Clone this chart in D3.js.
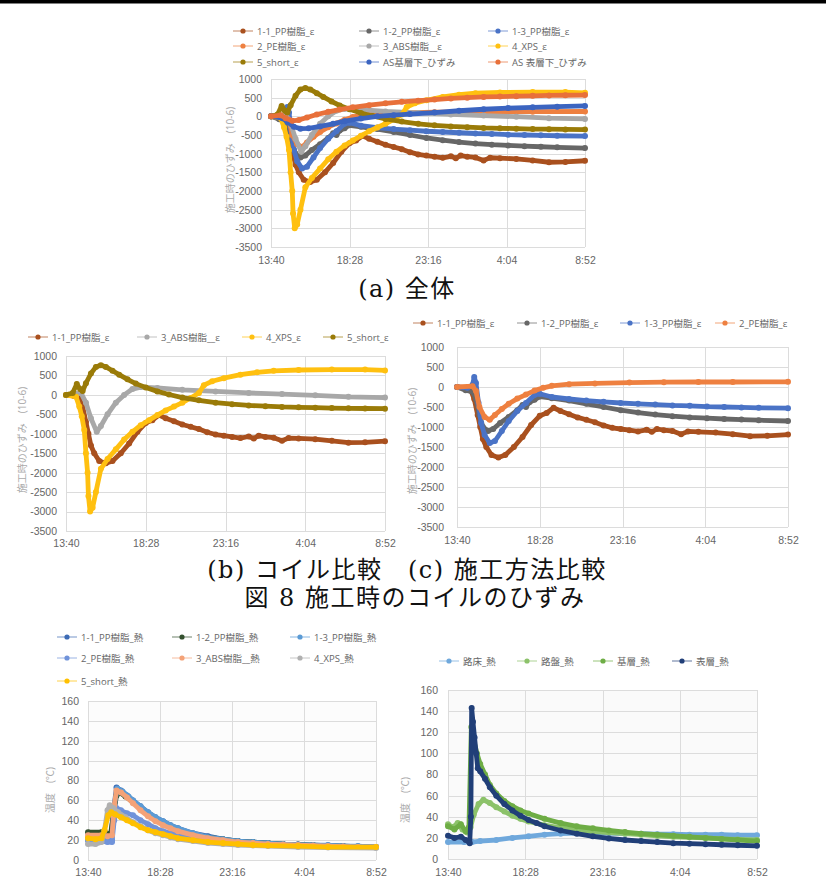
<!DOCTYPE html>
<html>
<head>
<meta charset="utf-8">
<style>
    body { margin: 0; background: #fff; }
    svg { display: block; font-family: 'Open Sans', 'Noto Sans CJK JP', sans-serif; }
    .tick text { font-size: 10.5px; fill: #666; }
    .grid line { stroke: #dcdcdc; stroke-width: 1; }
    .legend text { font-size: 9.5px; fill: #666; }
    .ytitle { font-size: 10px; fill: #aaa; }
    .caption { font-family: 'DejaVu Serif', 'Noto Sans CJK JP', serif; font-size: 24px; fill: #111; letter-spacing: 1.5px; }
</style>
</head>
<body>
<svg width="826" height="884"></svg>
<script src="https://cdn.jsdelivr.net/npm/d3@7"></script>
<script>
    // hours since 13:40, gridlines every 4h48m
    const timeTicks = [0, 4.8, 9.6, 14.4, 19.2];
    const timeLabels = ["13:40", "18:28", "23:16", "4:04", "8:52"];
    const strainTicks = [-3500, -3000, -2500, -2000, -1500, -1000, -500, 0, 500, 1000];
    const tempTicks = [0, 20, 40, 60, 80, 100, 120, 140, 160];

    // ---- strain series [hours, 10^-6] ----
    const pp11 = [[0,0],[0.5,-30],[0.8,-80],[1.0,-300],[1.2,-700],[1.35,-1000],[1.5,-1300],[1.7,-1500],[2.0,-1700],[2.4,-1760],[2.8,-1700],[3.3,-1500],[3.8,-1250],[4.3,-950],[4.8,-720],[5.2,-650],[5.6,-520],[6.0,-600],[6.5,-680],[7.0,-760],[7.5,-820],[8.0,-880],[8.5,-960],[9.0,-1020],[9.5,-1050],[10.0,-1080],[10.5,-1110],[11.0,-1070],[11.3,-1120],[11.6,-1050],[12.0,-1080],[12.5,-1100],[13.0,-1180],[13.4,-1110],[14.0,-1120],[15.0,-1140],[16.0,-1180],[17.0,-1230],[18.0,-1220],[19.2,-1190]];
    const pp12 = [[0,0],[0.5,-80],[0.9,-120],[1.1,-300],[1.3,-700],[1.5,-1000],[1.8,-1100],[2.1,-1050],[2.5,-900],[3.0,-750],[3.5,-580],[3.8,-450],[4.0,-500],[4.2,-380],[4.5,-320],[4.8,-240],[5.5,-280],[6.5,-340],[7.5,-420],[8.5,-500],[9.5,-580],[10.5,-640],[11.5,-690],[12.5,-730],[13.5,-760],[14.5,-780],[15.5,-800],[16.5,-815],[17.5,-830],[19.2,-850]];
    const pp13 = [[0,0],[0.6,-20],[0.9,50],[1.0,250],[1.1,100],[1.25,-400],[1.4,-900],[1.6,-1200],[1.9,-1400],[2.2,-1350],[2.6,-1100],[3.0,-850],[3.5,-600],[4.0,-400],[4.5,-200],[4.8,-170],[5.5,-250],[6.5,-300],[7.5,-340],[8.5,-370],[9.5,-400],[10.5,-420],[11.5,-440],[12.5,-460],[13.5,-470],[14.5,-490],[15.5,-500],[16.5,-510],[17.5,-520],[19.2,-530]];
    const pe2 = [[0,0],[0.9,20],[1.1,-100],[1.3,-500],[1.6,-750],[1.9,-820],[2.2,-700],[2.6,-550],[3.0,-420],[3.5,-290],[4.0,-190],[4.5,-90],[5.0,-20],[5.5,30],[6.5,70],[8,90],[10,110],[12,120],[14,125],[16,125],[19.2,130]];
    const abs3 = [[0,0],[0.6,20],[0.9,50],[1.2,-200],[1.5,-600],[1.85,-950],[2.1,-800],[2.5,-500],[3.0,-200],[3.5,0],[4.0,150],[4.5,200],[5.5,180],[7,130],[9,90],[11,50],[13,20],[15,-10],[17,-50],[19.2,-70]];
    const xps4 = [[0,0],[0.6,-50],[0.8,-300],[0.95,-550],[1.1,-900],[1.2,-1500],[1.3,-2000],[1.35,-2600],[1.45,-3000],[1.6,-2900],[1.8,-2500],[2.1,-1900],[2.5,-1650],[3.0,-1400],[3.5,-1150],[4.0,-950],[4.5,-780],[5.0,-650],[5.5,-520],[6.0,-400],[6.5,-300],[7.0,-200],[7.5,-80],[8.0,50],[8.3,250],[8.8,350],[9.5,430],[10.5,520],[11.5,580],[12.5,620],[14,640],[16,650],[18,650],[19.2,630]];
    const short5 = [[0,0],[0.4,50],[0.65,280],[0.85,150],[1.0,100],[1.2,300],[1.5,550],[1.8,720],[2.1,760],[2.4,720],[2.8,620],[3.2,520],[3.7,400],[4.2,290],[4.8,190],[5.5,90],[6.2,10],[7,-70],[8,-140],[9,-200],[10,-240],[11,-270],[12,-290],[13,-310],[14,-320],[15,-330],[16,-340],[17,-345],[18,-350],[19.2,-355]];
    const asKiso = [[0,0],[0.7,-50],[1.0,-150],[1.4,-280],[1.8,-330],[2.3,-320],[3.0,-270],[3.8,-200],[4.5,-130],[5.5,-60],[6.5,0],[7.5,30],[8.5,60],[10,100],[11.5,150],[13,190],[14.5,220],[16,240],[17.5,260],[19.2,280]];
    const asHyo = [[0,0],[0.6,30],[0.9,-50],[1.3,-120],[1.7,-100],[2.2,-30],[2.8,50],[3.5,120],[4.2,180],[5,240],[6,300],[7,350],[8,390],[9,420],[10,450],[11,480],[12,500],[13,520],[14,530],[15,540],[16,550],[17,560],[18,565],[19.2,570]];

    // ---- coil temperature [hours, deg C] ----
    const tPp11 = [[0,22],[0.9,22],[1.2,21],[1.5,22],[1.7,50],[1.9,73],[2.2,70],[2.6,65],[3.0,60],[3.5,54],[4.0,48],[4.5,43],[5.0,39],[5.5,35],[6.0,32],[7.0,27],[8.0,24],[9.0,21],[10,19],[11,18],[12,17],[13,16],[14,15.5],[15,15],[16,14.5],[17,14],[18,13.5],[19.2,13]];
    const tPp12 = [[0,28],[0.9,28],[1.2,27],[1.5,26],[1.7,45],[1.9,65],[2.1,68],[2.5,64],[3.0,58],[3.5,52],[4.0,46],[4.5,41],[5.0,37],[5.5,34],[6,31],[7,26],[8,23],[9,21],[10,19],[11,18],[12,17],[13,16],[14,15.5],[15,15],[16,14.5],[17,14],[18,13.5],[19.2,13]];
    const tPp13 = [[0,20],[0.9,20],[1.3,19],[1.6,20],[1.75,55],[1.95,72],[2.3,69],[2.7,64],[3.0,60],[3.5,54],[4.0,48],[4.5,43],[5.0,39],[5.5,35],[6,32],[7,27],[8,23],[9,21],[10,19],[11,18],[12,17],[13,16],[14,15.5],[15,15],[16,15],[17,14],[18,14],[19.2,13]];
    const tPe2 = [[0,20],[0.9,19],[1.3,18],[1.6,18],[1.75,40],[1.85,53],[2.2,50],[2.6,47],[3.0,45],[3.5,40],[4,36],[4.5,32],[5,29],[5.5,27],[6,25],[7,22],[8,20],[9,18],[10,17],[11,16],[12,15.5],[13,15],[14,14.5],[15,14],[16,14],[17,13.5],[18,13],[19.2,13]];
    const tAbs3 = [[0,25],[0.9,25],[1.3,24],[1.6,25],[1.75,55],[1.9,70],[2.2,68],[2.6,63],[3.0,57],[3.5,50],[4,44],[4.5,39],[5,35],[5.5,32],[6,29],[7,25],[8,22],[9,20],[10,18],[11,17],[12,16],[13,15.5],[14,15],[15,14.5],[16,14],[17,13.5],[18,13],[19.2,13]];
    const tXps4 = [[0,16],[0.5,16],[0.9,18],[1.1,30],[1.3,50],[1.45,55],[1.7,52],[2.0,48],[2.5,43],[3.0,38],[3.5,34],[4,30],[4.5,27],[5,25],[5.5,23],[6,21],[7,19],[8,17],[9,16],[10,15],[11,14.5],[12,14],[14,13],[16,12.5],[19.2,12]];
    const tShort5 = [[0,22],[0.5,21],[0.9,22],[1.1,30],[1.35,45],[1.55,48],[1.8,46],[2.2,43],[2.6,40],[3.0,37],[3.5,33],[4,30],[4.5,28],[5,26],[5.5,24],[6,22],[7,20],[8,18],[9,17],[10,16],[11,15],[12,14.5],[14,14],[16,13],[19.2,13]];

    // ---- pavement temperature [hours, deg C] ----
    const roshou = [[0,16],[1,16],[1.5,16],[2,17],[3,18],[4,20],[5,21.5],[6,23],[7,24],[8,24.5],[9,24.5],[10,24.5],[11,24],[12,24],[13,23.5],[14,23.5],[15,23],[16,23],[17,23],[18,22.5],[19.2,22.5]];
    const roban = [[0,33],[0.3,30],[0.6,34],[0.9,28],[1.2,25],[1.4,30],[1.6,42],[1.9,52],[2.2,56],[2.6,53],[3.0,49],[3.5,45],[4.0,41],[4.5,38],[5,35.5],[6,32],[7,29.5],[8,27.5],[9,26],[10,25],[11,24],[12,23],[13,22],[14,21],[15,20.5],[16,20],[17,19],[18,18.5],[19.2,18]];
    const kisou = [[0,31],[0.4,28],[0.8,33],[1.1,26],[1.3,30],[1.45,125],[1.6,112],[1.8,100],[2.0,90],[2.3,80],[2.6,70],[3.0,62],[3.5,55],[4.0,50],[4.5,46],[5,43],[6,38],[7,34],[8,31],[9,29],[10,27],[11,25.5],[12,24],[13,23],[14,22],[15,21],[16,20],[17,19],[18,18],[19.2,17]];
    const hyousou = [[0,22],[0.4,20],[0.8,21],[1.1,18],[1.35,15],[1.42,40],[1.47,143],[1.55,130],[1.65,115],[1.75,100],[1.85,86],[2.0,83],[2.3,76],[2.6,68],[3.0,60],[3.5,52],[4.0,46],[4.5,41],[5,37],[5.5,34],[6,31],[7,27],[8,24],[9,21.5],[10,19.5],[11,18],[12,17],[13,16],[14,15],[15,14.5],[16,14],[17,13.5],[18,13],[19.2,12.5]];

    const S = {
        pp11: { name: "1-1_PP樹脂_ε", data: pp11, color: "#a9501e" },
        pp12: { name: "1-2_PP樹脂_ε", data: pp12, color: "#676767" },
        pp13: { name: "1-3_PP樹脂_ε", data: pp13, color: "#4a73c6" },
        pe2: { name: "2_PE樹脂_ε", data: pe2, color: "#ee8040" },
        abs3: { name: "3_ABS樹脂__ε", data: abs3, color: "#a8a8a8" },
        xps4: { name: "4_XPS_ε", data: xps4, color: "#ffc010" },
        short5: { name: "5_short_ε", data: short5, color: "#9a7b08" },
        asKiso: { name: "AS基層下_ひずみ", data: asKiso, color: "#3b64c0" },
        asHyo: { name: "AS 表層下_ひずみ", data: asHyo, color: "#e8703a" }
    };

    const svg = d3.select("svg");

    // top rule of the page
    svg.append("rect").attr("x", 0).attr("y", 0).attr("width", 826).attr("height", 3.5).attr("fill", "#000");

    function drawChart(c) {
        const g = svg.append("g");
        const x = d3.scaleLinear().domain([0, 19.2]).range([c.left, c.right]);
        const y = d3.scaleLinear().domain(c.yDomain).range([c.bottom, c.top]);

        if (c.fill) {
            g.append("rect").attr("x", c.left).attr("y", c.top)
                .attr("width", c.right - c.left).attr("height", c.bottom - c.top).attr("fill", c.fill);
        }

        const grid = g.append("g").attr("class", "grid");
        grid.selectAll(".h").data(c.yTicks).join("line")
            .attr("x1", c.left).attr("x2", c.right)
            .attr("y1", d => Math.round(y(d)) + 0.5).attr("y2", d => Math.round(y(d)) + 0.5);
        grid.selectAll(".v").data(timeTicks).join("line")
            .attr("y1", c.top).attr("y2", c.bottom)
            .attr("x1", d => Math.round(x(d)) + 0.5).attr("x2", d => Math.round(x(d)) + 0.5);

        g.append("g")
            .attr("transform", `translate(${c.left},0)`)
            .call(d3.axisLeft(y).tickValues(c.yTicks).tickSize(0).tickPadding(c.yPad || 9)
                .tickFormat(d => String(d)))
            .call(a => a.select(".domain").remove());

        g.append("g")
            .attr("transform", `translate(0,${c.bottom})`)
            .call(d3.axisBottom(x).tickValues(timeTicks).tickSize(0).tickPadding(c.xPad || 9)
                .tickFormat((d, i) => timeLabels[i]))
            .call(a => a.select(".domain").remove());

        g.append("text").attr("class", "ytitle")
            .attr("transform", `translate(${c.titleX},${c.titleY}) rotate(-90)`)
            .attr("text-anchor", "middle").attr("dominant-baseline", "central")
            .text(c.title);

        const line = d3.line().x(d => x(d[0])).y(d => y(d[1]));
        const plot = g.append("g");
        c.series.forEach(s => {
            plot.append("path").datum(s.data)
                .attr("fill", "none").attr("stroke", s.color)
                .attr("stroke-width", 4.8).attr("stroke-linejoin", "round")
                .attr("d", line);
            plot.append("g").selectAll("circle").data(s.data).join("circle")
                .attr("cx", d => x(d[0])).attr("cy", d => y(d[1]))
                .attr("r", 3).attr("fill", s.color);
        });

        const leg = g.append("g").attr("class", "legend");
        c.series.forEach((s, i) => {
            const p = c.legend[i];
            leg.append("line").attr("x1", p[0] - 10).attr("x2", p[0] + 10)
                .attr("y1", p[1]).attr("y2", p[1])
                .attr("stroke", s.color).attr("stroke-width", 1).attr("opacity", 0.7);
            leg.append("circle").attr("cx", p[0]).attr("cy", p[1]).attr("r", 2.6).attr("fill", s.color);
            leg.append("text").attr("x", p[0] + 14).attr("y", p[1])
                .attr("dominant-baseline", "central").text(s.name);
        });
    }

    // (a) all
    drawChart({
        left: 271, right: 585, top: 79, bottom: 247,
        yDomain: [-3500, 1000], yTicks: strainTicks, xPad: 10,
        title: "施工時のひずみ　(10-6)", titleX: 230, titleY: 160,
        series: [S.pp11, S.pp12, S.pp13, S.pe2, S.abs3, S.xps4, S.short5, S.asKiso, S.asHyo],
        legend: [[243, 31], [369, 31], [498, 31], [243, 46], [369, 46], [498, 46], [243, 62], [369, 62], [498, 62]]
    });

    // (b) coil comparison
    drawChart({
        left: 66, right: 385, top: 356, bottom: 531,
        yDomain: [-3500, 1000], yTicks: strainTicks, xPad: 9,
        title: "施工時のひずみ　(10-6)", titleX: 22, titleY: 440,
        series: [S.pp11, S.abs3, S.xps4, S.short5],
        legend: [[38, 337], [147, 337], [252, 337], [333, 337]]
    });

    // (c) construction method comparison
    drawChart({
        left: 457, right: 788, top: 347, bottom: 527,
        yDomain: [-3500, 1000], yTicks: strainTicks, xPad: 10, yPad: 13,
        title: "施工時のひずみ　(10-6)", titleX: 412, titleY: 441,
        series: [S.pp11, S.pp12, S.pp13, S.pe2],
        legend: [[423, 323], [527, 323], [630, 323], [725, 323]]
    });

    // (d) coil temperature
    drawChart({
        left: 88, right: 376, top: 701, bottom: 860,
        yDomain: [0, 160], yTicks: tempTicks, xPad: 9, fill: "#fcfcfc",
        title: "温度　(℃)", titleX: 50, titleY: 790,
        series: [
            { name: "1-1_PP樹脂_熱", data: tPp11, color: "#3d6bb5" },
            { name: "1-2_PP樹脂_熱", data: tPp12, color: "#34502f" },
            { name: "1-3_PP樹脂_熱", data: tPp13, color: "#5b9bd5" },
            { name: "2_PE樹脂_熱", data: tPe2, color: "#7093da" },
            { name: "3_ABS樹脂__熱", data: tAbs3, color: "#f4a277" },
            { name: "4_XPS_熱", data: tXps4, color: "#b0b0b0" },
            { name: "5_short_熱", data: tShort5, color: "#ffc000" }
        ],
        legend: [[67, 637], [182, 637], [300, 637], [67, 658], [182, 658], [300, 658], [67, 681]]
    });

    // (e) pavement temperature
    drawChart({
        left: 448, right: 757, top: 690, bottom: 859,
        yDomain: [0, 160], yTicks: tempTicks, xPad: 10, yPad: 10, fill: "#fafafa",
        title: "温度　(℃)", titleX: 405, titleY: 800,
        series: [
            { name: "路床_熱", data: roshou, color: "#6fa8dc" },
            { name: "路盤_熱", data: roban, color: "#8cc26a" },
            { name: "基層_熱", data: kisou, color: "#6ead45" },
            { name: "表層_熱", data: hyousou, color: "#213f78" }
        ],
        legend: [[449, 661], [527, 661], [603, 661], [682, 661]]
    });

    // captions
    svg.append("text").attr("class", "caption").attr("x", 407).attr("y", 289)
        .attr("text-anchor", "middle").attr("dominant-baseline", "central").text("(a) 全体");
    svg.append("text").attr("class", "caption").attr("x", 407).attr("y", 570)
        .attr("text-anchor", "middle").attr("dominant-baseline", "central").text("(b) コイル比較　(c) 施工方法比較");
    svg.append("text").attr("class", "caption").attr("x", 415).attr("y", 598)
        .attr("text-anchor", "middle").attr("dominant-baseline", "central").text("図 8 施工時のコイルのひずみ");
</script>
</body>
</html>
